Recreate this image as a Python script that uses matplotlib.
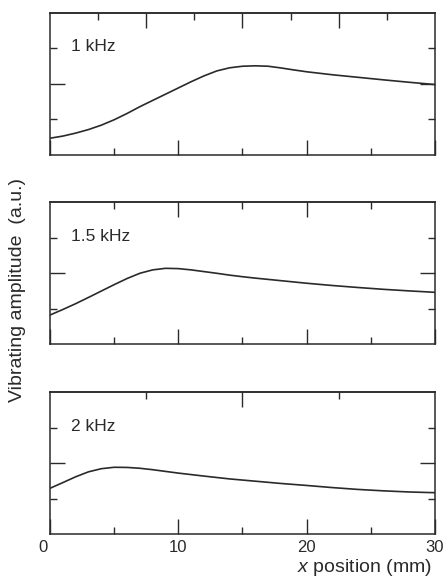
import matplotlib.pyplot as plt
import matplotlib.transforms as mtransforms
import numpy as np

plt.rcParams['font.family'] = ['Liberation Sans', 'DejaVu Sans']
plt.rcParams['mathtext.fontset'] = 'custom'
plt.rcParams['mathtext.it'] = 'Liberation Sans:italic'
plt.rcParams['mathtext.rm'] = 'Liberation Sans'

# amplitude profiles (x in mm, amplitude in a.u.)
x_1k = [0, 1, 2, 3, 4, 5, 6, 7, 8, 9, 10, 11, 12, 13, 14, 15, 16, 17, 18, 19, 20, 22, 24, 26, 28, 30]
amp_1k = [0.118, 0.133, 0.154, 0.179, 0.21, 0.248, 0.292, 0.34, 0.384, 0.428, 0.472, 0.516, 0.557,
          0.592, 0.614, 0.625, 0.628, 0.625, 0.613, 0.599, 0.586, 0.565, 0.547, 0.529, 0.512, 0.496]

x_15k = [0, 1, 2, 3, 4, 5, 6, 7, 8, 9, 10, 11, 12, 13, 14, 15, 16, 18, 20, 22, 24, 26, 28, 30]
amp_15k = [0.206, 0.245, 0.286, 0.33, 0.375, 0.42, 0.463, 0.5, 0.524, 0.535, 0.533, 0.524,
           0.512, 0.5, 0.487, 0.476, 0.466, 0.448, 0.43, 0.414, 0.4, 0.387, 0.376, 0.366]

x_2k = [0, 1, 2, 3, 4, 5, 6, 7, 8, 9, 10, 12, 14, 16, 18, 20, 22, 24, 26, 28, 30]
amp_2k = [0.324, 0.364, 0.405, 0.44, 0.462, 0.472, 0.471, 0.465, 0.455, 0.443, 0.431, 0.41,
          0.39, 0.374, 0.358, 0.344, 0.329, 0.316, 0.306, 0.298, 0.293]

labels = ['1 kHz', '1.5 kHz', '2 kHz']
xs = [x_1k, x_15k, x_2k]
amps = [amp_1k, amp_15k, amp_2k]

# top-axis tick marks differ per panel (major, minor)
top_major = [[7.5, 15, 22.5], [10, 20], [15]]
top_minor = [[3.75, 11.25, 18.75, 26.25], [5, 15, 25], [7.5, 22.5]]

bottom_major = [0, 10, 20, 30]
bottom_minor = [5, 15, 25]

ink = '#2a2a2a'

fig = plt.figure(figsize=(4.44, 5.8), dpi=100)
bottoms = [0.7328, 0.4064, 0.0788]
h = 0.2448

for i in range(3):
    ax = fig.add_axes([0.1126, bottoms[i], 0.867, h])
    ax.plot(xs[i], amps[i], color=ink, lw=1.2)
    ax.set_xlim(0, 30)
    ax.set_ylim(0, 1)

    ax.set_xticks(bottom_major)
    ax.set_xticks(bottom_minor, minor=True)
    ax.set_yticks([0.5])
    ax.set_yticks([0.25, 0.75], minor=True)
    ax.set_yticklabels([])
    ax.tick_params(which='both', direction='in', right=True, top=False,
                   color=ink, width=1.0, labelsize=12, pad=4, labelcolor=ink)
    ax.tick_params(which='major', length=10.5)
    ax.tick_params(which='minor', length=5)
    if i < 2:
        ax.set_xticklabels([])
    else:
        ax.set_xticklabels(['0', '10', '20', '30'])
        # the "0" sits a bit left of the axis corner in the original
        lab0 = ax.get_xticklabels()[0]
        lab0.set_transform(lab0.get_transform() +
                           mtransforms.ScaledTranslation(-7 / 100, 0, fig.dpi_scale_trans))

    sec = ax.secondary_xaxis('top')
    sec.set_xticks(top_major[i])
    sec.set_xticks(top_minor[i], minor=True)
    sec.set_xticklabels([])
    sec.tick_params(which='both', direction='in', color=ink, width=1.0)
    sec.tick_params(which='major', length=10.5)
    sec.tick_params(which='minor', length=5)
    sec.spines['top'].set_linewidth(1.1)
    sec.spines['top'].set_color(ink)

    for s in ax.spines.values():
        s.set_linewidth(1.1)
        s.set_color(ink)

    ax.text(0.054, 0.73, labels[i], transform=ax.transAxes, fontsize=12.5,
            color=ink, va='baseline', ha='left')

fig.text(18 / 444, 0.5, 'Vibrating amplitude  (a.u.)', rotation=90,
         ha='center', va='center', fontsize=14, color=ink)
fig.text(432 / 444, 0.013, r'$x$ position (mm)', ha='right', va='baseline',
         fontsize=14, color=ink)

fig.savefig('out.png', dpi=100)
